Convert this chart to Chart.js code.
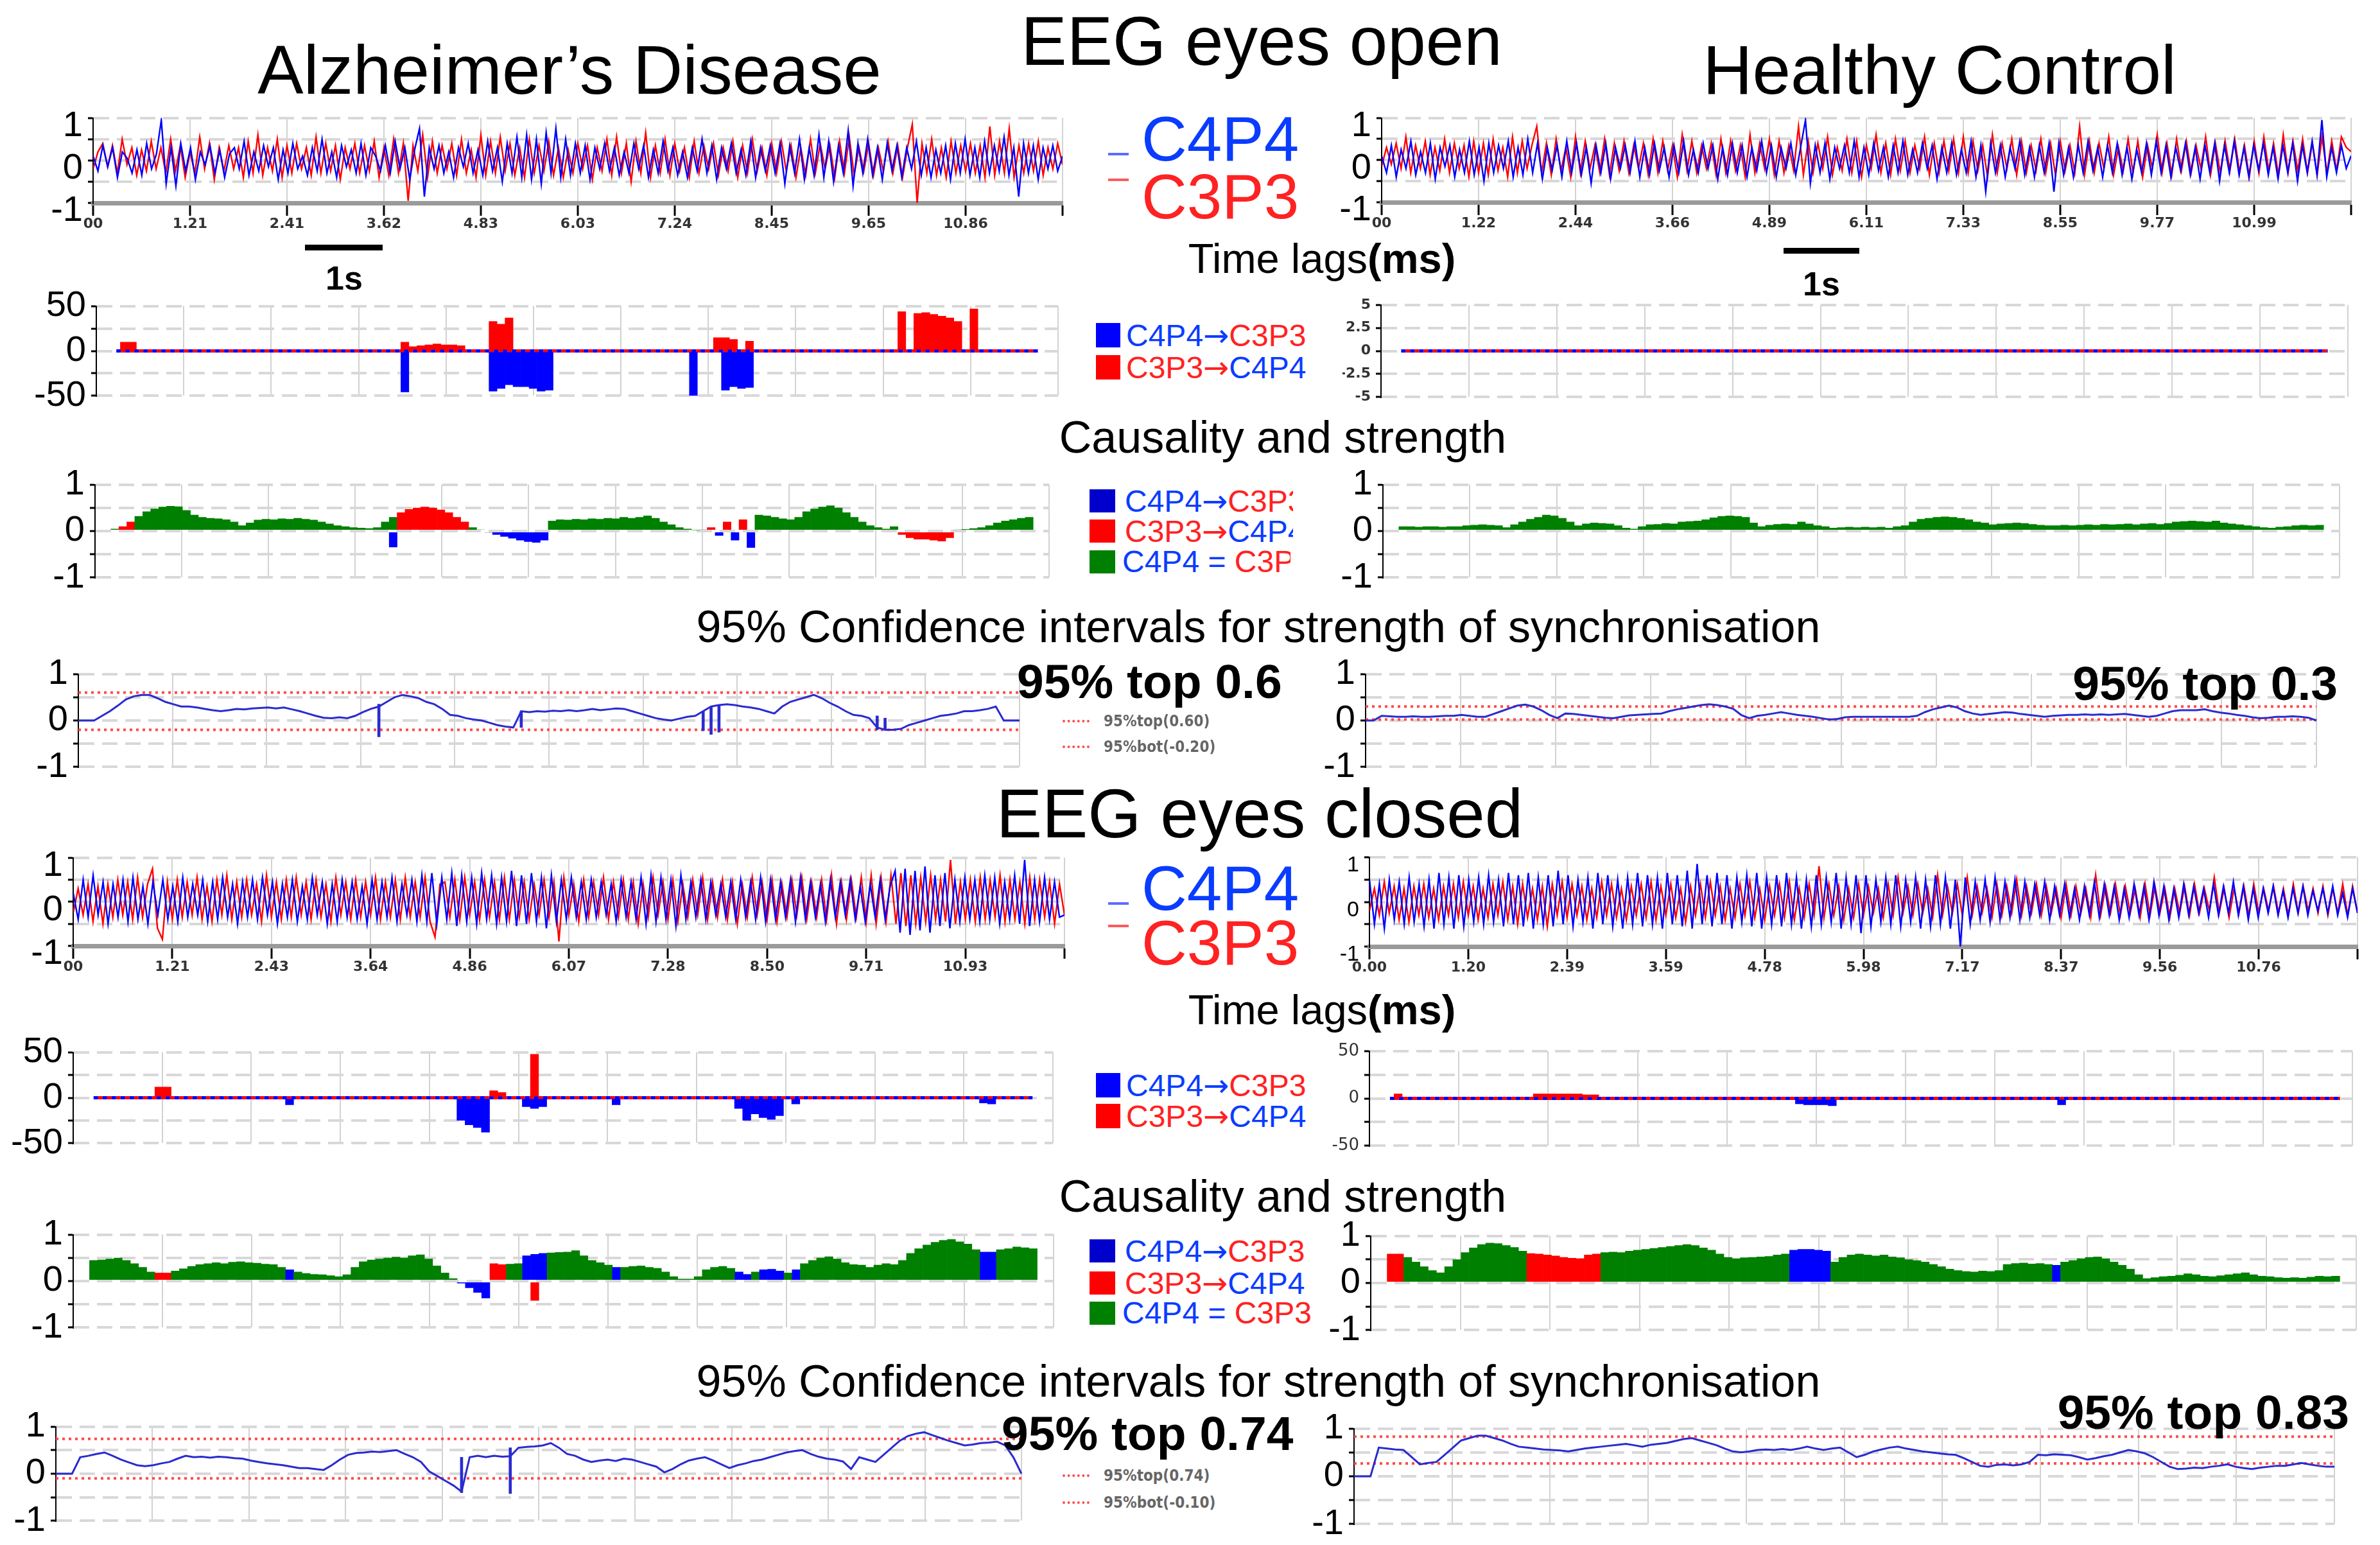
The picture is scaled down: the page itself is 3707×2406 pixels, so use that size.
<!DOCTYPE html>
<html>
<head>
<meta charset="utf-8">
<script src="https://cdn.jsdelivr.net/npm/chart.js@4.4.1/dist/chart.umd.min.js"></script>
<style>
  body { margin: 0; width: 3707px; height: 2406px; position: relative; overflow: hidden; background: #fff;
         font-family: 'Liberation Sans', Arial, sans-serif; }
  .t { position: absolute; white-space: nowrap; line-height: 1; color: #000; }
  .box { position: absolute; }
  .arr { font-family: 'DejaVu Sans', sans-serif; }
  canvas { position: absolute; }
</style>
</head>
<body>
<script>
// ---------- data ----------
// EEG traces (normalised amplitude), C4P4 and C3P3
var adOpenC4 = [
  0.1,-0.25,0.35,-0.15,0.3,-0.4,0.2,0.05,-0.3,0.25,-0.35,0.4,-0.2,0.15,0.95,-0.55,0.3,-0.6,0.4,-0.25,
  0.3,-0.45,0.2,-0.1,0.35,-0.3,0.25,-0.4,0.15,0.3,-0.2,0.45,-0.35,0.2,-0.25,0.35,-0.15,0.3,-0.45,0.25,
  -0.3,0.4,-0.2,0.1,-0.35,0.3,-0.25,0.5,-0.3,0.2,-0.4,0.35,-0.15,0.25,-0.3,0.4,-0.35,0.3,0.1,-0.25,
  0.35,-0.3,0.45,-0.2,0.3,-0.45,0.25,0.75,-0.85,0.3,-0.2,0.35,-0.3,0.2,-0.4,0.3,-0.15,0.4,-0.3,0.25,
  -0.35,0.45,-0.25,0.3,-0.5,0.4,-0.3,0.55,-0.4,0.6,-0.45,0.5,-0.55,0.65,-0.3,0.75,-0.4,0.5,-0.35,0.4,
  -0.3,0.35,-0.45,0.3,-0.2,0.4,-0.25,0.3,-0.35,0.2,-0.3,0.4,-0.2,0.35,-0.4,0.25,-0.3,0.45,-0.25,0.3,
  -0.35,0.2,-0.4,0.3,-0.25,0.5,-0.3,0.35,-0.45,0.3,-0.2,0.4,-0.3,0.25,-0.35,0.45,-0.4,0.3,-0.25,0.35,
  -0.3,0.4,-0.55,0.35,-0.3,0.5,-0.45,0.3,-0.35,0.6,-0.4,0.45,-0.5,0.35,-0.3,0.7,-0.6,0.4,-0.3,0.5,
  -0.35,0.3,-0.45,0.4,-0.25,0.35,-0.4,0.3,-0.2,0.45,-0.35,0.3,-0.4,0.25,-0.3,0.35,-0.45,0.4,-0.3,0.5,
  -0.35,0.3,-0.4,0.45,-0.3,0.35,-0.25,0.55,-0.35,0.3,-0.85,0.4,-0.3,0.35,-0.45,0.3,-0.2,0.35,-0.25,0.1];
var adOpenC3 = [-0.2,
  0.2,0.4,-0.15,0.35,-0.3,0.5,-0.1,0.3,-0.35,0.25,-0.25,0.45,-0.2,0.3,-0.3,0.5,-0.25,0.35,-0.4,0.2,
  -0.3,0.55,-0.2,0.4,-0.45,0.3,-0.25,0.35,-0.2,0.3,-0.4,0.45,-0.3,0.6,-0.35,0.3,-0.25,0.5,-0.4,0.35,
  -0.3,0.4,-0.2,0.3,-0.35,0.55,-0.3,0.4,-0.25,0.35,-0.45,0.3,-0.2,0.4,-0.3,0.35,-0.25,0.45,-0.4,0.3,
  -0.35,0.5,-0.3,0.4,-0.95,0.35,-0.25,0.6,-0.4,0.45,-0.3,0.35,-0.2,0.4,-0.35,0.5,-0.3,0.25,-0.4,0.6,
  -0.35,0.45,-0.3,0.55,-0.25,0.4,-0.35,0.3,-0.4,0.5,-0.3,0.35,-0.25,0.45,-0.35,0.3,-0.4,0.25,-0.3,0.4,
  -0.2,0.35,-0.45,0.3,-0.25,0.5,-0.35,0.55,-0.3,0.4,-0.5,0.45,-0.3,0.65,-0.4,0.35,-0.3,0.5,-0.35,0.4,
  -0.25,0.3,-0.4,0.45,-0.3,0.35,-0.2,0.4,-0.35,0.3,-0.25,0.45,-0.4,0.35,-0.3,0.5,-0.25,0.3,-0.35,0.4,
  -0.3,0.45,-0.25,0.35,-0.4,0.3,-0.35,0.5,-0.3,0.4,-0.2,0.35,-0.4,0.45,-0.3,0.55,-0.35,0.3,-0.25,0.4,
  -0.35,0.3,-0.25,0.45,-0.3,0.35,-0.4,0.3,0.85,-1.0,0.4,-0.3,0.5,-0.35,0.3,-0.4,0.45,-0.3,0.35,-0.25,
  0.4,-0.3,0.35,-0.4,0.8,-0.35,0.45,-0.3,0.75,-0.4,0.35,-0.3,0.4,-0.25,0.45,-0.35,0.3,-0.2,0.4,-0.1];
var hcOpenC4 = [
  0.1,-0.3,0.35,-0.4,0.25,-0.2,0.45,-0.35,0.2,-0.3,0.4,-0.45,0.3,-0.15,0.35,-0.4,0.25,-0.3,0.45,-0.35,
  0.3,-0.5,0.4,-0.3,0.35,-0.2,0.45,-0.4,0.3,-0.35,0.5,-0.3,0.4,-0.45,0.3,-0.25,0.35,-0.4,0.45,-0.3,
  0.4,-0.35,0.3,-0.55,0.35,-0.3,0.4,-0.45,0.3,-0.2,0.35,-0.3,0.45,-0.4,0.3,-0.35,0.4,-0.25,0.3,-0.4,
  0.35,-0.3,0.45,-0.35,0.25,-0.3,0.4,-0.2,0.35,-0.45,0.3,-0.35,0.4,-0.3,0.35,-0.4,0.3,-0.25,0.45,-0.3,
  0.35,-0.4,0.3,-0.2,0.4,-0.35,0.3,0.95,-0.55,0.35,-0.3,0.4,-0.45,0.3,-0.2,0.35,-0.3,0.45,-0.4,0.3,
  -0.35,0.4,-0.25,0.3,-0.4,0.35,-0.3,0.45,-0.35,0.25,-0.3,0.4,-0.2,0.35,-0.45,0.3,-0.3,0.4,-0.35,0.25,
  -0.3,0.45,-0.4,0.35,-0.75,0.4,-0.3,0.35,-0.4,0.3,-0.2,0.45,-0.35,0.3,-0.4,0.35,-0.3,0.4,-0.75,0.4,
  -0.35,0.3,-0.4,0.35,-0.3,0.45,-0.25,0.3,-0.4,0.35,-0.3,0.4,-0.35,0.3,-0.45,0.25,-0.3,0.4,-0.35,0.45,
  -0.3,0.35,-0.4,0.3,-0.25,0.4,-0.35,0.3,-0.45,0.35,-0.3,0.4,-0.5,0.35,-0.3,0.45,-0.35,0.3,-0.4,0.35,
  -0.25,0.4,-0.35,0.3,-0.45,0.35,-0.3,0.4,-0.5,0.35,-0.3,0.45,-0.35,0.95,-0.4,0.3,-0.3,0.35,-0.2,0.1];
var hcOpenC3 = [-0.15,
  0.3,-0.1,0.4,-0.2,0.55,-0.3,0.35,-0.2,0.45,-0.35,0.3,-0.25,0.5,-0.3,0.4,-0.2,0.35,-0.4,0.45,-0.3,
  0.4,-0.35,0.5,-0.25,0.3,-0.4,0.55,-0.3,0.45,-0.2,0.35,0.8,-0.3,0.4,-0.35,0.5,-0.25,0.3,-0.4,0.55,
  -0.3,0.45,-0.2,0.35,-0.3,0.5,-0.35,0.4,-0.25,0.45,-0.3,0.35,-0.2,0.4,-0.35,0.5,-0.3,0.45,-0.25,0.35,
  -0.4,0.6,-0.25,0.45,-0.3,0.35,-0.2,0.4,-0.35,0.5,-0.3,0.45,-0.25,0.35,-0.4,0.6,-0.3,0.4,-0.2,0.5,
  -0.35,0.45,-0.3,0.35,-0.25,0.8,-0.35,0.45,-0.3,0.4,-0.2,0.55,-0.35,0.3,-0.25,0.5,-0.3,0.45,-0.4,0.35,
  -0.2,0.6,-0.3,0.4,-0.35,0.5,-0.25,0.45,-0.3,0.35,-0.2,0.55,-0.35,0.4,-0.3,0.45,-0.25,0.5,-0.3,0.55,
  -0.3,0.45,-0.25,0.35,-0.4,0.6,-0.3,0.4,-0.2,0.5,-0.35,0.45,-0.3,0.35,-0.25,0.5,-0.3,0.4,-0.35,0.45,
  -0.25,0.35,-0.3,0.8,-0.35,0.45,-0.3,0.4,-0.2,0.55,-0.35,0.3,-0.25,0.5,-0.3,0.45,-0.4,0.35,-0.2,0.6,
  -0.3,0.4,-0.35,0.5,-0.25,0.45,-0.3,0.35,-0.2,0.55,-0.35,0.4,-0.3,0.45,-0.25,0.5,-0.3,0.35,-0.4,0.45,
  -0.3,0.55,-0.25,0.4,-0.35,0.6,-0.3,0.45,-0.25,0.5,-0.3,0.4,-0.35,0.55,-0.3,0.45,-0.25,0.55,0.3,0.2];
var adClosedC4 = [
  0.2,-0.4,0.5,-0.35,0.6,-0.3,0.45,-0.5,0.4,-0.35,0.5,-0.45,0.55,-0.4,0.35,-0.5,0.45,-0.3,0.5,-0.4,
  0.35,-0.45,0.55,-0.35,0.4,-0.3,0.5,-0.45,0.45,-0.4,0.55,-0.35,0.4,-0.5,0.45,-0.35,0.5,-0.4,0.55,-0.3,
  0.45,-0.5,0.4,-0.35,0.5,-0.45,0.35,-0.4,0.55,-0.3,0.45,-0.5,0.4,-0.45,0.5,-0.35,0.45,-0.4,0.35,-0.5,
  0.5,-0.4,0.45,-0.35,0.55,-0.45,0.4,-0.3,0.5,-0.45,0.6,-0.45,0.65,-0.5,0.55,-0.4,0.65,-0.55,0.6,-0.45,
  0.55,-0.5,0.65,-0.4,0.6,-0.5,0.55,-0.45,0.7,-0.55,0.6,-0.5,0.65,-0.45,0.55,-0.6,0.6,-0.45,0.5,-0.4,
  0.55,-0.35,0.45,-0.4,0.5,-0.35,0.45,-0.3,0.4,-0.45,0.5,-0.35,0.45,-0.4,0.55,-0.5,0.6,-0.45,0.55,-0.4,
  0.5,-0.55,0.6,-0.4,0.45,-0.35,0.5,-0.4,0.45,-0.3,0.4,-0.35,0.45,-0.4,0.5,-0.35,0.45,-0.4,0.55,-0.45,
  0.5,-0.4,0.45,-0.35,0.5,-0.45,0.55,-0.4,0.45,-0.35,0.4,-0.45,0.5,-0.35,0.45,-0.3,0.5,-0.4,0.35,-0.45,
  0.4,-0.35,0.5,-0.4,0.35,0.7,-0.7,0.75,-0.75,0.7,-0.65,0.8,-0.7,0.6,-0.55,0.65,-0.6,0.5,-0.45,0.55,
  -0.4,0.5,-0.45,0.6,-0.4,0.55,-0.5,0.45,-0.4,0.6,-0.5,0.95,-0.55,0.5,-0.45,0.55,-0.4,0.45,-0.35,-0.3];
var adClosedC3 = [-0.25,
  0.3,-0.3,0.4,-0.45,0.35,-0.5,0.4,-0.35,0.5,-0.3,0.45,-0.4,0.55,-0.35,0.4,0.75,-0.6,-0.85,0.45,-0.4,
  0.5,-0.35,0.45,-0.3,0.55,-0.4,0.35,-0.45,0.5,-0.3,0.6,-0.4,0.45,-0.35,0.5,-0.3,0.4,-0.45,0.6,-0.35,
  0.45,-0.4,0.5,-0.35,0.55,-0.3,0.45,-0.4,0.5,-0.35,0.4,-0.45,0.55,-0.3,0.45,-0.4,0.5,-0.35,0.45,-0.3,
  0.55,-0.4,0.45,-0.35,0.5,-0.4,0.55,-0.35,0.45,-0.35,0.55,-0.45,-0.8,0.4,0.45,-0.35,0.5,-0.4,0.55,-0.3,
  0.45,-0.4,0.5,-0.35,0.45,-0.4,0.55,-0.4,0.5,-0.35,0.45,-0.4,0.4,-0.3,0.5,-0.35,0.45,-0.9,0.55,-0.3,
  0.4,-0.45,0.5,-0.35,0.45,-0.3,0.55,-0.4,0.45,-0.35,0.5,-0.4,0.45,-0.5,0.4,-0.35,0.55,-0.3,0.45,-0.4,
  0.5,-0.45,0.4,-0.35,0.5,-0.3,0.55,-0.4,0.45,-0.35,0.5,-0.4,0.45,-0.5,0.4,-0.35,0.55,-0.3,0.45,-0.4,
  0.5,-0.45,0.4,-0.35,0.5,-0.3,0.55,-0.4,0.45,-0.35,0.5,-0.4,0.6,-0.5,0.45,-0.4,0.5,-0.35,0.55,-0.45,
  0.6,-0.5,0.55,-0.45,0.6,-0.5,0.65,-0.55,0.6,-0.5,0.55,-0.45,0.6,-0.4,0.5,-0.45,0.95,-0.5,0.45,-0.4,
  0.5,-0.45,0.55,-0.4,0.5,-0.35,0.6,-0.45,0.5,-0.4,0.45,-0.5,0.55,-0.4,0.5,-0.35,0.45,-0.5,0.4,-0.3];
var hcClosedC4 = [
  0.5,-0.5,0.4,-0.6,0.5,-0.4,0.45,-0.5,0.55,-0.45,0.4,-0.55,0.5,-0.6,0.65,-0.5,0.55,-0.6,0.6,-0.55,
  0.5,-0.45,0.55,-0.5,0.6,-0.45,0.5,-0.55,0.65,-0.5,0.6,-0.55,0.65,-0.6,0.55,-0.5,0.6,-0.55,0.7,-0.5,
  0.6,-0.55,0.5,-0.45,0.55,-0.6,0.65,-0.5,0.6,-0.55,0.5,-0.6,0.55,-0.5,0.65,-0.55,0.6,-0.5,0.55,-0.6,
  0.65,-0.5,0.6,-0.55,0.7,-0.6,0.85,-0.5,0.6,-0.55,0.65,-0.5,0.6,-0.6,0.55,-0.45,0.6,-0.55,0.65,-0.6,
  0.55,-0.5,0.6,-0.55,0.65,-0.5,0.55,-0.6,0.5,-0.55,0.6,-0.5,0.55,-0.45,0.65,-0.6,0.55,-0.5,0.6,-0.7,
  0.6,-0.55,0.5,-0.45,0.55,-0.5,0.6,-0.55,0.5,-0.45,0.55,-0.6,0.5,-0.55,0.6,-0.5,0.55,-0.6,0.5,-1.0,
  0.55,-0.5,0.45,-0.4,0.5,-0.45,0.55,-0.4,0.45,-0.35,0.5,-0.4,0.45,-0.35,0.4,-0.3,0.45,-0.4,0.35,-0.3,
  0.4,-0.35,0.3,-0.4,0.35,-0.3,0.45,-0.35,0.4,-0.3,0.35,-0.4,0.3,-0.35,0.4,-0.3,0.35,-0.4,0.45,-0.3,
  0.35,-0.4,0.3,-0.35,0.4,-0.3,0.35,-0.25,0.3,-0.35,0.4,-0.3,0.35,-0.25,0.45,-0.3,0.35,-0.4,0.3,-0.35,
  0.3,-0.25,0.35,-0.3,0.25,-0.35,0.3,-0.25,0.35,-0.3,0.25,-0.2,0.3,-0.25,0.35,-0.3,0.2,-0.35,0.3,-0.25];
var hcClosedC3 = [-0.2,
  0.3,-0.3,0.45,-0.25,0.35,-0.4,0.3,-0.45,0.35,-0.3,0.4,-0.35,0.3,-0.4,0.35,-0.3,0.4,-0.35,0.45,-0.3,
  0.35,-0.4,0.3,-0.35,0.4,-0.3,0.45,-0.4,0.35,-0.5,0.4,-0.35,0.3,-0.4,0.35,-0.55,0.4,-0.3,0.45,-0.35,
  0.4,-0.3,0.35,-0.4,0.3,-0.35,0.45,-0.3,0.4,-0.35,0.3,-0.4,0.35,-0.3,0.4,-0.35,0.45,-0.4,0.35,-0.3,
  0.4,-0.35,0.3,-0.45,0.35,-0.3,0.4,-0.35,0.45,-0.3,0.35,-0.4,0.3,-0.35,0.4,-0.3,0.45,-0.35,0.3,-0.4,
  0.35,-0.3,0.4,-0.35,0.45,-0.4,0.3,-0.35,0.4,-0.3,0.8,-0.35,0.4,-0.3,0.35,-0.4,0.3,-0.35,0.4,-0.3,
  0.35,-0.25,0.3,-0.35,0.4,-0.3,0.55,-0.25,0.35,-0.3,0.4,-0.25,0.3,-0.35,0.6,-0.3,0.35,-0.25,0.4,-0.3,
  0.55,-0.3,0.35,-0.25,0.3,-0.35,0.4,-0.3,0.35,-0.25,0.5,-0.3,0.35,-0.25,0.4,-0.3,0.35,-0.25,0.3,-0.35,
  0.4,-0.3,0.35,-0.25,0.3,-0.35,0.6,-0.3,0.35,-0.25,0.4,-0.3,0.35,-0.25,0.3,-0.35,0.4,-0.3,0.35,-0.25,
  0.3,-0.35,0.3,-0.25,0.35,-0.3,0.4,-0.25,0.3,-0.2,0.55,-0.25,0.3,-0.35,0.3,-0.25,0.35,-0.3,0.4,-0.25,
  0.3,-0.2,0.35,-0.25,0.3,-0.3,0.4,-0.25,0.35,-0.2,0.3,-0.25,0.35,-0.3,0.3,-0.25,0.4,-0.3,0.35,-0.25];

// time axis tick labels (s)
var adOpenTicks = ['00','1.21','2.41','3.62','4.83','6.03','7.24','8.45','9.65','10.86'];
var hcOpenTicks = ['00','1.22','2.44','3.66','4.89','6.11','7.33','8.55','9.77','10.99'];
var adClosedTicks = ['00','1.21','2.43','3.64','4.86','6.07','7.28','8.50','9.71','10.93'];
var hcClosedTicks = ['0.00','1.20','2.39','3.59','4.78','5.98','7.17','8.37','9.56','10.76'];

// time lags (ms): [window, lag], range = windows with a result
var adOpenLagRange = [2, 117];
var adOpenLagC4 = [[38,-46],[49,-45],[50,-42],[51,-38],[52,-40],[53,-40],[54,-42],[55,-45],[56,-44],[74,-50],[78,-44],[79,-40],[80,-42],[81,-41]];
var adOpenLagC3 = [[3,10],[4,10],[38,10],[39,5],[40,6],[41,7],[42,8],[43,7],[44,7],[45,6],[49,33],[50,30],[51,37],[77,15],[78,15],[79,13],[81,11],[100,44],[102,42],[103,43],[104,41],[105,39],[106,37],[107,33],[109,47]];
var hcOpenLagRange = [2, 117];
var hcOpenLagC4 = [];
var hcOpenLagC3 = [];
var adClosedLagRange = [2, 117];
var adClosedLagC4 = [[26,-8],[47,-25],[48,-30],[49,-33],[50,-38],[55,-10],[56,-12],[57,-10],[66,-8],[81,-12],[82,-25],[83,-18],[84,-22],[85,-24],[86,-20],[88,-7],[111,-6],[112,-7]];
var adClosedLagC3 = [[10,12],[11,12],[51,8],[52,6],[56,48]];
var hcClosedLagRange = [2, 118];
var hcClosedLagC4 = [[52,-6],[53,-7],[54,-7],[55,-7],[56,-8],[84,-7]];
var hcClosedLagC3 = [[3,5],[20,5],[21,5],[22,5],[23,5],[24,5],[25,5],[26,4],[27,4]];

// causality and strength per window; direction runs [from, to, 'r'|'b'], rest is C4P4 = C3P3
var adOpenCaus = [null,null,0.05,0.1,0.2,0.32,0.42,0.48,0.52,0.54,0.53,0.45,0.35,0.3,0.28,0.27,0.25,0.2,0.12,0.18,0.24,0.26,0.25,0.27,0.26,0.28,0.26,0.24,0.2,0.16,0.12,0.1,0.08,0.07,0.06,0.08,0.2,0.3,0.4,0.47,0.5,0.52,0.5,0.46,0.4,0.3,0.2,0.08,0.03,-0.03,-0.08,-0.12,-0.16,-0.2,-0.23,-0.25,-0.2,0.22,0.25,0.24,0.26,0.25,0.27,0.26,0.28,0.27,0.3,0.28,0.3,0.33,0.28,0.2,0.14,0.08,0.05,0.02,0.03,0.08,-0.1,0.2,-0.2,0.25,-0.36,0.35,0.33,0.3,0.27,0.25,0.3,0.42,0.48,0.52,0.55,0.5,0.4,0.3,0.2,0.12,0.08,0.05,0.1,-0.08,-0.15,-0.18,-0.18,-0.2,-0.22,-0.15,0.03,0.04,0.06,0.08,0.12,0.18,0.22,0.25,0.28,0.3,null,null];
var adOpenDir = [[3,4,'r'],[38,46,'r'],[49,56,'b'],[77,77,'r'],[78,78,'b'],[79,79,'r'],[80,80,'b'],[81,81,'r'],[82,82,'b'],[101,107,'r']];
var adOpenExtra = [[37,-0.35,'b']];
var hcOpenCaus = [null,null,0.1,0.1,0.09,0.1,0.1,0.09,0.1,0.1,0.12,0.13,0.14,0.13,0.12,0.08,0.14,0.2,0.26,0.3,0.35,0.33,0.28,0.2,0.12,0.16,0.18,0.17,0.16,0.12,0.07,0.05,0.1,0.14,0.15,0.17,0.16,0.2,0.21,0.22,0.25,0.29,0.32,0.33,0.32,0.3,0.18,0.1,0.13,0.15,0.16,0.15,0.2,0.16,0.12,0.1,0.07,0.08,0.09,0.08,0.09,0.08,0.09,0.07,0.1,0.12,0.2,0.26,0.28,0.3,0.31,0.3,0.28,0.25,0.2,0.18,0.14,0.16,0.17,0.18,0.17,0.15,0.13,0.12,0.12,0.13,0.12,0.13,0.14,0.13,0.15,0.14,0.15,0.16,0.14,0.16,0.17,0.15,0.17,0.2,0.21,0.22,0.21,0.2,0.22,0.18,0.16,0.14,0.12,0.1,0.08,0.07,0.09,0.1,0.12,0.13,0.12,0.13,null,null];
var hcOpenDir = [];
var hcOpenExtra = [];
var adClosedCaus = [null,null,0.45,0.46,0.48,0.5,0.45,0.38,0.3,0.2,0.18,0.18,0.22,0.27,0.32,0.36,0.38,0.4,0.38,0.41,0.42,0.4,0.39,0.37,0.36,0.3,0.25,0.2,0.17,0.15,0.14,0.12,0.1,0.14,0.3,0.42,0.46,0.48,0.5,0.52,0.5,0.55,0.57,0.48,0.33,0.18,0.06,-0.05,-0.15,-0.25,-0.37,0.38,0.36,0.37,0.38,0.55,0.58,0.6,0.61,0.62,0.63,0.66,0.55,0.45,0.4,0.35,0.3,0.3,0.32,0.33,0.3,0.28,0.2,0.1,0.05,0.05,0.1,0.25,0.3,0.32,0.28,0.2,0.15,0.2,0.25,0.26,0.22,0.18,0.25,0.38,0.45,0.5,0.53,0.48,0.4,0.36,0.35,0.3,0.35,0.38,0.36,0.45,0.6,0.7,0.78,0.84,0.88,0.9,0.85,0.8,0.68,0.63,0.63,0.68,0.7,0.74,0.72,0.7,null,null];
var adClosedDir = [[10,11,'r'],[26,26,'b'],[47,50,'b'],[51,52,'r'],[55,57,'b'],[66,66,'b'],[81,82,'b'],[84,86,'b'],[88,88,'b'],[111,112,'b']];
var adClosedExtra = [[56,-0.42,'r']];
var hcClosedCaus = [null,null,0.62,0.62,0.55,0.45,0.35,0.27,0.22,0.35,0.5,0.65,0.75,0.82,0.85,0.84,0.8,0.76,0.68,0.63,0.62,0.6,0.58,0.55,0.53,0.52,0.6,0.62,0.65,0.66,0.65,0.68,0.7,0.72,0.74,0.76,0.78,0.8,0.82,0.8,0.75,0.7,0.62,0.55,0.52,0.54,0.55,0.56,0.57,0.6,0.62,0.7,0.72,0.72,0.7,0.68,0.45,0.55,0.6,0.62,0.6,0.58,0.6,0.56,0.54,0.5,0.48,0.45,0.4,0.35,0.3,0.27,0.25,0.24,0.26,0.25,0.27,0.4,0.42,0.43,0.41,0.42,0.4,0.38,0.45,0.48,0.52,0.55,0.56,0.52,0.45,0.38,0.3,0.18,0.1,0.12,0.14,0.15,0.17,0.2,0.18,0.15,0.14,0.16,0.18,0.2,0.22,0.18,0.15,0.14,0.12,0.11,0.12,0.11,0.13,0.15,0.14,0.15,null,null];
var hcClosedDir = [[2,3,'r'],[19,27,'r'],[51,55,'b'],[83,83,'b']];
var hcClosedExtra = [];

// strength of synchronisation with 95% confidence bounds
var adOpenCi = [0,0,0,0.1,0.2,0.32,0.45,0.52,0.55,0.55,0.48,0.4,0.35,0.3,0.3,0.28,0.25,0.22,0.2,0.22,0.25,0.24,0.26,0.27,0.28,0.26,0.28,0.24,0.2,0.15,0.1,0.06,0.05,0.07,0.05,0.1,0.18,0.25,0.3,0.4,0.5,0.55,0.52,0.48,0.4,0.35,0.25,0.12,0.1,0.05,0.02,0,-0.05,-0.1,-0.13,-0.15,0.2,0.18,0.2,0.19,0.21,0.2,0.22,0.2,0.22,0.25,0.22,0.24,0.26,0.25,0.2,0.15,0.1,0.05,0.02,0,0.04,0.08,0.1,0.2,0.3,0.33,0.35,0.33,0.3,0.28,0.25,0.2,0.15,0.3,0.4,0.45,0.5,0.55,0.48,0.38,0.3,0.2,0.12,0.1,0.05,-0.15,-0.2,-0.2,-0.18,-0.1,-0.05,0,0.05,0.1,0.12,0.15,0.2,0.2,0.22,0.25,0.3,0,0,0];
var adOpenCiSpikes = [[38,-0.35,0.35],[56,-0.15,0.2],[79,-0.22,0.2],[80,-0.3,0.3],[81,-0.25,0.33],[101,-0.2,0.1],[102,-0.2,0.05]];
var adOpenTop = 0.6, adOpenBot = -0.2;
var hcOpenCi = [0,0,0.1,0.09,0.08,0.08,0.09,0.08,0.08,0.09,0.1,0.1,0.12,0.1,0.08,0.08,0.14,0.2,0.26,0.32,0.34,0.3,0.22,0.12,0.05,0.15,0.14,0.12,0.1,0.08,0.06,0.05,0.08,0.11,0.12,0.13,0.14,0.15,0.2,0.24,0.27,0.3,0.33,0.35,0.33,0.3,0.25,0.12,0.05,0.1,0.12,0.15,0.18,0.15,0.12,0.1,0.08,0.05,0.02,0.03,0.07,0.08,0.08,0.08,0.08,0.08,0.08,0.08,0.08,0.1,0.18,0.24,0.28,0.32,0.28,0.2,0.15,0.12,0.14,0.16,0.18,0.17,0.14,0.12,0.1,0.08,0.1,0.11,0.12,0.12,0.13,0.12,0.13,0.12,0.13,0.14,0.12,0.1,0.08,0.1,0.15,0.2,0.22,0.22,0.22,0.24,0.2,0.17,0.15,0.12,0.1,0.07,0.05,0.06,0.08,0.08,0.09,0.08,0.06,0];
var hcOpenCiSpikes = [];
var hcOpenTop = 0.3, hcOpenBot = 0.02;
var adClosedCi = [0,0,0,0.35,0.38,0.42,0.45,0.38,0.3,0.24,0.18,0.16,0.18,0.22,0.25,0.32,0.38,0.35,0.36,0.34,0.36,0.35,0.33,0.32,0.28,0.25,0.22,0.2,0.18,0.15,0.12,0.12,0.1,0.08,0.18,0.3,0.4,0.44,0.45,0.47,0.46,0.48,0.5,0.42,0.35,0.25,0.05,-0.05,-0.15,-0.25,-0.38,0.35,0.38,0.35,0.38,0.36,0.37,0.55,0.57,0.58,0.6,0.65,0.55,0.42,0.38,0.3,0.25,0.28,0.3,0.27,0.32,0.3,0.25,0.2,0.15,0.03,0.1,0.2,0.28,0.32,0.35,0.28,0.2,0.12,0.18,0.22,0.27,0.3,0.35,0.4,0.45,0.48,0.5,0.42,0.36,0.32,0.3,0.26,0.1,0.35,0.3,0.25,0.4,0.55,0.7,0.8,0.85,0.88,0.82,0.76,0.7,0.65,0.6,0.62,0.65,0.66,0.68,0.6,0.35,0];
var adClosedCiSpikes = [[50,-0.4,0.35],[56,-0.42,0.55]];
var adClosedTop = 0.74, adClosedBot = -0.1;
var hcClosedCi = [0,0,0,0.6,0.58,0.56,0.55,0.4,0.25,0.28,0.3,0.45,0.6,0.75,0.8,0.85,0.85,0.8,0.75,0.68,0.62,0.6,0.58,0.56,0.55,0.54,0.52,0.55,0.58,0.6,0.62,0.64,0.66,0.68,0.65,0.62,0.66,0.68,0.7,0.74,0.78,0.8,0.75,0.7,0.65,0.58,0.52,0.5,0.52,0.55,0.56,0.55,0.57,0.55,0.58,0.62,0.58,0.55,0.58,0.6,0.5,0.4,0.45,0.52,0.56,0.6,0.62,0.58,0.55,0.52,0.5,0.48,0.46,0.45,0.38,0.3,0.22,0.2,0.24,0.25,0.23,0.25,0.3,0.45,0.44,0.46,0.45,0.44,0.4,0.35,0.38,0.42,0.45,0.5,0.55,0.52,0.48,0.4,0.3,0.2,0.15,0.16,0.18,0.17,0.2,0.22,0.25,0.2,0.17,0.15,0.18,0.2,0.22,0.22,0.25,0.28,0.25,0.22,0.2,0.2];
var hcClosedCiSpikes = [];
var hcClosedTop = 0.83, hcClosedBot = 0.27;

// ---------- drawing ----------
var FONT = "'Liberation Sans', Arial, sans-serif";
var SMALLFONT = "'DejaVu Sans', sans-serif";
var BLUE = '#0000ff', RED = '#ff0000', GREEN = '#008000', CIBLUE = '#2b2bd0';
var TXTBLUE = '#0a3cff', TXTRED = '#ff2222';
var WINDOWS = 120;
var winLabels = [];
for (var w = 0; w < WINDOWS; w++) winLabels.push(w);

function sparse(pairs) {
  var a = winLabels.map(function () { return null; });
  pairs.forEach(function (p) { a[p[0]] = p[1]; });
  return a;
}
function zeroLine(range) {
  return winLabels.map(function (i) { return i >= range[0] && i <= range[1] ? 0 : null; });
}
function timePoints(sig) {
  return sig.map(function (v, i) { return { x: i * 10 / (sig.length - 1), y: v }; });
}
function dirColor(code) { return code === 'r' ? RED : code === 'b' ? BLUE : GREEN; }

function yAxis(o) {
  return {
    min: o.min, max: o.max,
    afterFit: function (s) { s.width = o.yw; },
    ticks: {
      stepSize: o.step, autoSkip: false, padding: 8, color: o.color || '#000',
      labelOffset: o.shift || 0,
      font: { size: o.size, family: o.family || FONT, weight: o.weight || 'normal' },
      callback: function (v) { return o.show.indexOf(v) >= 0 ? String(v) : ''; }
    },
    grid: { color: '#d8d8d8', lineWidth: 4, tickLength: 8, tickColor: '#000', tickWidth: 3 },
    border: { color: '#000', width: 2, dash: [24, 12] }
  };
}
function gridX(tickLabels, xh) {
  var eeg = !!tickLabels;
  return {
    type: 'linear', position: 'bottom', min: 0, max: 10,
    afterFit: function (s) { s.height = eeg ? xh : 0; },
    ticks: {
      display: eeg, stepSize: 1, autoSkip: false, maxRotation: 0, padding: 0, color: '#333',
      font: { size: 22, weight: 'bold', family: SMALLFONT },
      callback: function (v) { return eeg && v < 10 ? tickLabels[v] : ''; }
    },
    grid: { color: '#d2d2d2', lineWidth: 2, drawTicks: eeg, tickLength: 20, tickColor: '#000', tickWidth: 3 },
    border: { display: eeg, color: '#9a9a9a', width: 7 }
  };
}
function mount(box, yw, padT, padB) {
  var c = document.createElement('canvas');
  var wd = box.r - box.l + yw + 14, ht = box.b - box.t + padT + padB;
  c.width = wd; c.height = ht;
  c.style.left = (box.l - yw) + 'px';
  c.style.top = (box.t - padT) + 'px';
  document.body.appendChild(c);
  return c;
}
function baseOptions(padT, padB, scales) {
  return {
    responsive: false, animation: false, events: [],
    layout: { padding: { top: padT, right: 14, bottom: padB, left: 0 } },
    plugins: { legend: { display: false }, tooltip: { enabled: false } },
    scales: scales
  };
}

function eegChart(box, c4, c3, ticks, y) {
  var padT = 40, xh = 58;
  var c = mount(box, y.yw, padT, xh);
  new Chart(c, {
    type: 'line',
    data: { datasets: [
      { label: 'C4P4', data: timePoints(c4), borderColor: BLUE, borderWidth: 2.4, pointRadius: 0, tension: 0 },
      { label: 'C3P3', data: timePoints(c3), borderColor: RED, borderWidth: 2.4, pointRadius: 0, tension: 0 }
    ] },
    options: baseOptions(padT, 0, { x: gridX(ticks, xh), y: yAxis(Object.assign({ shift: 13 }, y)) })
  });
}

function lagChart(box, c4, c3, range, y) {
  var pad = 40;
  var c = mount(box, y.yw, pad, pad);
  var zero = zeroLine(range);
  var bar = { grouped: false, barPercentage: 1.05, categoryPercentage: 1, borderWidth: 0 };
  new Chart(c, {
    type: 'bar',
    data: { labels: winLabels, datasets: [
      Object.assign({ label: 'C4P4→C3P3', data: sparse(c4), backgroundColor: BLUE }, bar),
      Object.assign({ label: 'C3P3→C4P4', data: sparse(c3), backgroundColor: RED }, bar),
      { type: 'line', data: zero, borderColor: BLUE, borderWidth: 5, borderDash: [7, 7], pointRadius: 0 },
      { type: 'line', data: zero, borderColor: RED, borderWidth: 5, borderDash: [7, 7], borderDashOffset: 7, pointRadius: 0 }
    ] },
    options: baseOptions(pad, pad, {
      x: { type: 'category', display: false, offset: true },
      xg: gridX(null),
      y: yAxis(y)
    })
  });
}

function causChart(box, vals, dir, extra, y) {
  var pad = 40;
  var c = mount(box, y.yw, pad, pad);
  var cols = vals.map(function () { return GREEN; });
  dir.forEach(function (r) { for (var i = r[0]; i <= r[1]; i++) cols[i] = dirColor(r[2]); });
  var extraVals = sparse(extra.map(function (e) { return [e[0], e[1]]; }));
  var extraCols = winLabels.map(function () { return GREEN; });
  extra.forEach(function (e) { extraCols[e[0]] = dirColor(e[2]); });
  var bar = { grouped: false, barPercentage: 1.05, categoryPercentage: 1, borderWidth: 0 };
  new Chart(c, {
    type: 'bar',
    data: { labels: winLabels, datasets: [
      Object.assign({ label: 'strength', data: vals, backgroundColor: cols }, bar),
      Object.assign({ label: 'extra', data: extraVals, backgroundColor: extraCols }, bar)
    ] },
    options: baseOptions(pad, pad, {
      x: { type: 'category', display: false, offset: true },
      xg: gridX(null),
      y: yAxis(y)
    })
  });
}

function ciChart(box, vals, spikes, top, bot, y) {
  var pad = 40;
  var c = mount(box, y.yw, pad, pad);
  var spikeData = sparse(spikes.map(function (s) { return [s[0], [s[1], s[2]]]; }));
  new Chart(c, {
    type: 'line',
    data: { labels: winLabels, datasets: [
      { label: 'strength', data: vals, borderColor: CIBLUE, borderWidth: 3, pointRadius: 0, tension: 0 },
      { type: 'bar', label: 'spikes', data: spikeData, backgroundColor: CIBLUE, barThickness: 4 },
      { label: '95%top', data: vals.map(function () { return top; }), borderColor: '#ff4a4a', borderWidth: 4, borderDash: [4, 6], pointRadius: 0 },
      { label: '95%bot', data: vals.map(function () { return bot; }), borderColor: '#ff4a4a', borderWidth: 4, borderDash: [4, 6], pointRadius: 0 }
    ] },
    options: baseOptions(pad, pad, {
      x: { type: 'category', display: false, offset: false },
      xg: gridX(null),
      y: yAxis(y)
    })
  });
}

// y axis presets
var Y1 = { min: -1, max: 1, step: 0.5, show: [1, 0, -1], size: 56, yw: 85 };
var Y1s = { min: -1, max: 1, step: 0.5, show: [1, 0, -1], size: 34, yw: 70 };
var Y50 = { min: -50, max: 50, step: 25, show: [50, 0, -50], size: 56, yw: 112 };
var Y50s = { min: -50, max: 50, step: 25, show: [50, 0, -50], size: 26, family: SMALLFONT, color: '#333', yw: 70 };
var Y5s = { min: -5, max: 5, step: 2.5, show: [5, 2.5, 0, -2.5, -5], size: 22, family: SMALLFONT, color: '#333', weight: 'bold', yw: 60 };

// panels (plot area boxes, px)
eegChart({ l: 145, t: 182, r: 1655, b: 316 }, adOpenC4, adOpenC3, adOpenTicks, Y1);
eegChart({ l: 2152, t: 182, r: 3662, b: 315 }, hcOpenC4, hcOpenC3, hcOpenTicks, Y1);
lagChart({ l: 150, t: 475, r: 1648, b: 618 }, adOpenLagC4, adOpenLagC3, adOpenLagRange, Y50);
lagChart({ l: 2151, t: 475, r: 3657, b: 618 }, hcOpenLagC4, hcOpenLagC3, hcOpenLagRange, Y5s);
causChart({ l: 148, t: 753, r: 1634, b: 901 }, adOpenCaus, adOpenDir, adOpenExtra, Y1);
causChart({ l: 2154, t: 753, r: 3644, b: 901 }, hcOpenCaus, hcOpenDir, hcOpenExtra, Y1);
ciChart({ l: 122, t: 1048, r: 1588, b: 1196 }, adOpenCi, adOpenCiSpikes, adOpenTop, adOpenBot, Y1);
ciChart({ l: 2127, t: 1048, r: 3608, b: 1196 }, hcOpenCi, hcOpenCiSpikes, hcOpenTop, hcOpenBot, Y1);

eegChart({ l: 114, t: 1334, r: 1658, b: 1473 }, adClosedC4, adClosedC3, adClosedTicks, Y1);
eegChart({ l: 2133, t: 1335, r: 3672, b: 1474 }, hcClosedC4, hcClosedC3, hcClosedTicks, Y1s);
lagChart({ l: 114, t: 1637, r: 1640, b: 1782 }, adClosedLagC4, adClosedLagC3, adClosedLagRange, Y50);
lagChart({ l: 2133, t: 1637, r: 3664, b: 1784 }, hcClosedLagC4, hcClosedLagC3, hcClosedLagRange, Y50s);
causChart({ l: 114, t: 1921, r: 1641, b: 2069 }, adClosedCaus, adClosedDir, adClosedExtra, Y1);
causChart({ l: 2135, t: 1923, r: 3670, b: 2073 }, hcClosedCaus, hcClosedDir, hcClosedExtra, Y1);
ciChart({ l: 87, t: 2220, r: 1591, b: 2370 }, adClosedCi, adClosedCiSpikes, adClosedTop, adClosedBot, Y1);
ciChart({ l: 2109, t: 2223, r: 3636, b: 2375 }, hcClosedCi, hcClosedCiSpikes, hcClosedTop, hcClosedBot, Y1);

// ---------- text ----------
function text(html, x, y, size, align, style) {
  var d = document.createElement('div');
  d.className = 't';
  d.innerHTML = html;
  d.style.fontSize = size + 'px';
  d.style.top = (y - size * 0.5) + 'px';
  if (align === 'c') { d.style.left = x + 'px'; d.style.transform = 'translateX(-50%)'; }
  else if (align === 'r') { d.style.right = (3707 - x) + 'px'; }
  else { d.style.left = x + 'px'; }
  if (style) Object.assign(d.style, style);
  document.body.appendChild(d);
  return d;
}
function rect(x, y, w, h, css) {
  var d = document.createElement('div');
  d.className = 'box';
  d.style.left = x + 'px'; d.style.top = y + 'px';
  d.style.width = w + 'px'; d.style.height = h + 'px';
  Object.assign(d.style, css);
  document.body.appendChild(d);
}
function b(s) { return '<span style="color:' + TXTBLUE + '">' + s + '</span>'; }
function r(s) { return '<span style="color:' + TXTRED + '">' + s + '</span>'; }
var ARROW = '<span class="arr">→</span>';

text('EEG eyes open', 1965, 64, 107, 'c');
text('Alzheimer’s Disease', 887, 109, 107, 'c');
text('Healthy Control', 3021, 109, 107, 'c');
text('EEG eyes closed', 1962, 1267, 107, 'c');

// channel legends
[[216, 306], [1383, 1468]].forEach(function (p) {
  text(b('C4P4'), 1778, p[0], 98, 'l');
  text(r('C3P3'), 1778, p[1], 98, 'l');
  rect(1726, p[0] + 22, 32, 4, { background: '#5a6cff' });
  rect(1726, p[1] - 28, 32, 4, { background: '#ff5a5a' });
});

// 1 s scale bars
rect(475, 381, 121, 9, { background: '#000' });
text('1s', 536, 433, 52, 'c', { fontWeight: 'bold' });
rect(2778, 386, 118, 9, { background: '#000' });
text('1s', 2837, 442, 52, 'c', { fontWeight: 'bold' });

// section headings
text('Time lags<b>(ms)</b>', 2059, 402, 65, 'c');
text('Time lags<b>(ms)</b>', 2059, 1572, 65, 'c');
text('Causality and strength', 1998, 681, 70, 'c');
text('Causality and strength', 1998, 1863, 70, 'c');
text('95% Confidence intervals for strength of synchronisation', 1960, 976, 70, 'c');
text('95% Confidence intervals for strength of synchronisation', 1960, 2151, 70, 'c');

// time lag legends
[[522, 572], [1690, 1738]].forEach(function (p) {
  rect(1707, p[0] - 19, 38, 38, { background: BLUE });
  text(b('C4P4' + ARROW) + r('C3P3'), 1754, p[0], 48, 'l');
  rect(1707, p[1] - 19, 38, 38, { background: RED });
  text(r('C3P3' + ARROW) + b('C4P4'), 1754, p[1], 48, 'l');
});

// causality legends
function causLegend(ys, clip) {
  var st = clip ? { width: clip + 'px', overflow: 'hidden', height: '52px' } : null;
  rect(1697, ys[0] - 18, 40, 36, { background: '#0000cc' });
  text(b('C4P4' + ARROW) + r('C3P3'), 1752, ys[0], 48, 'l', st);
  rect(1697, ys[1] - 18, 40, 36, { background: RED });
  text(r('C3P3' + ARROW) + b('C4P4'), 1752, ys[1], 48, 'l', st);
  rect(1697, ys[2] - 18, 40, 36, { background: GREEN });
  text(b('C4P4 = ') + r('C3P3'), 1748, ys[2], 48, 'l', st);
}
causLegend([780, 827, 875], 262);
causLegend([1948, 1998, 2045], 0);

// confidence labels
text('95% top 0.6', 1584, 1061, 75, 'l', { fontWeight: 'bold' });
text('95% top 0.3', 3641, 1064, 75, 'r', { fontWeight: 'bold' });
text('95% top 0.74', 1560, 2232, 75, 'l', { fontWeight: 'bold' });
text('95% top 0.83', 3659, 2199, 75, 'r', { fontWeight: 'bold' });
function ciLegend(ys, top, bot) {
  var st = { color: '#666', fontWeight: 'bold', fontFamily: "'DejaVu Sans Condensed', 'DejaVu Sans', sans-serif" };
  rect(1655, ys[0] - 2, 42, 0, { borderTop: '4px dotted #ff4a4a' });
  text('95%top(' + top + ')', 1719, ys[0], 24, 'l', st);
  rect(1655, ys[1] - 2, 42, 0, { borderTop: '4px dotted #ff4a4a' });
  text('95%bot(' + bot + ')', 1719, ys[1], 24, 'l', st);
}
ciLegend([1123, 1163], adOpenTop.toFixed(2), adOpenBot.toFixed(2));
ciLegend([2298, 2340], adClosedTop.toFixed(2), adClosedBot.toFixed(2));
</script>
</body>
</html>
